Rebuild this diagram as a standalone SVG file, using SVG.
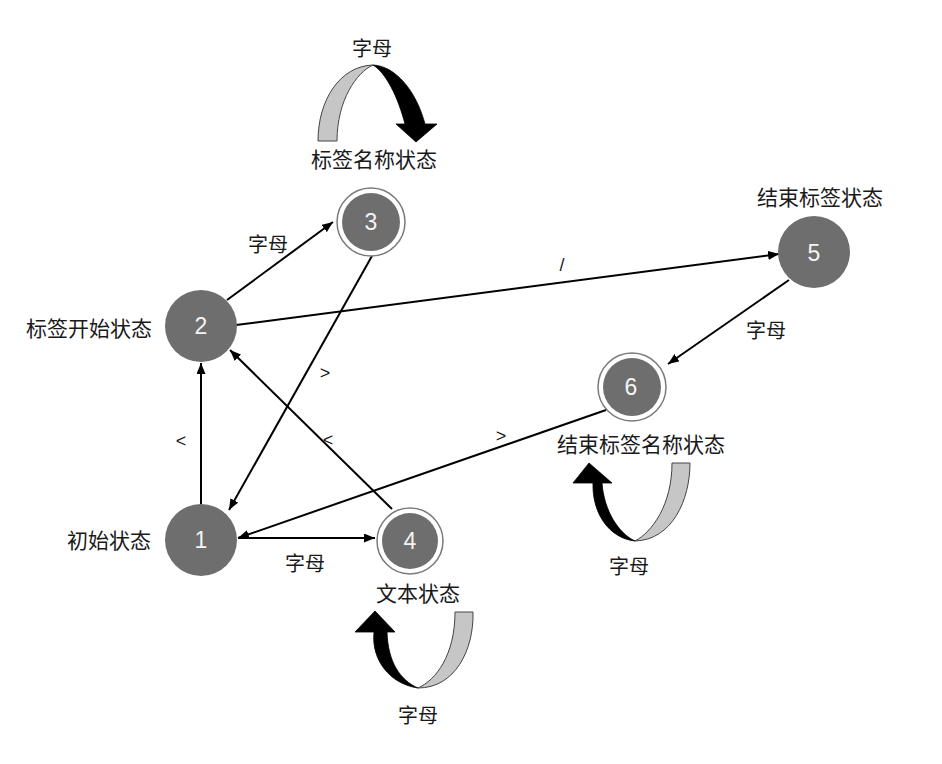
<svg xmlns="http://www.w3.org/2000/svg" width="942" height="764" viewBox="0 0 942 764">
<defs>
<marker id="ah" viewBox="0 0 11 9" refX="11" refY="4.5" markerWidth="11" markerHeight="9" markerUnits="userSpaceOnUse" orient="auto">
<path d="M0,0 L11,4.5 L0,9 Z" fill="#000"/>
</marker>
</defs>
<style>
.fill{fill:#6e6e6e}
.ring{fill:#fff;stroke:#7a7a7a;stroke-width:1.5}
.num{font-family:"Liberation Sans",Arial,sans-serif;font-size:23px;fill:#f4f4f4;text-anchor:middle;dominant-baseline:central}
.lbl{font-family:"Noto Sans CJK SC","Noto Sans",sans-serif;font-size:21px;fill:#1a1a1a;text-anchor:middle;dominant-baseline:central}
.el{font-family:"Noto Sans CJK SC","Noto Sans",sans-serif;font-size:20px;fill:#1a1a1a;text-anchor:middle;dominant-baseline:central}
.sym{font-family:"Liberation Sans",Arial,sans-serif;font-size:18px;fill:#1a1a1a;text-anchor:middle;dominant-baseline:central}
.edge{stroke:#000;stroke-width:2;fill:none;marker-end:url(#ah)}
.gray{fill:#c6c6c6;stroke:#444;stroke-width:1}
.blk{fill:#000;stroke:#000;stroke-width:0.8}
</style>
<rect width="942" height="764" fill="#fff"/>

<g id="connectors">
<line class="edge" x1="227" y1="300" x2="333" y2="222"/>
<line class="edge" x1="372" y1="256" x2="229" y2="510"/>
<line class="edge" x1="236" y1="325" x2="779" y2="254"/>
<line class="edge" x1="789" y1="280" x2="668" y2="364"/>
<line class="edge" x1="606" y1="410" x2="238" y2="538"/>
<line class="edge" x1="392" y1="509" x2="230" y2="350"/>
<line class="edge" x1="201" y1="504" x2="201" y2="363"/>
<line class="edge" x1="238" y1="538" x2="375" y2="538"/>
<text class="el" x="268" y="243">字母</text>
<text class="sym" x="325" y="373">&gt;</text>
<text class="sym" x="562" y="265">/</text>
<text class="el" x="766" y="329">字母</text>
<text class="sym" x="501" y="436">&gt;</text>
<text class="sym" x="328" y="440">&lt;</text>
<text class="sym" x="181" y="441">&lt;</text>
<text class="el" x="305" y="562">字母</text>
</g>

<g id="loop3">
<path class="gray" d="M318,141 C318,100 340,66 373,65 C357,72 337,100 337,141 Z"/>
<path class="blk" d="M373,65 C395,66 416,90 425,124 L437,124 L416,142 L396,124 L405,124 C398,97 386,73 373,65 Z"/>
<text class="el" x="372" y="47">字母</text>
</g>

<g id="loop6">
<path class="gray" d="M690,463 C690,500 672,540 635,541 C652,532 672,505 672,463 Z"/>
<path class="blk" d="M635,541 C608,538 592,512 593,483 L573,483 L589,463 L612,483 L602,483 C604,510 618,533 635,541 Z"/>
<text class="el" x="629" y="565">字母</text>
</g>

<g id="loop4">
<path class="gray" d="M473,612 C474,650 455,688 418,688 C436,680 455,655 455,612 Z"/>
<path class="blk" d="M418,688 C390,684 371,660 374,632 L355,632 L375,611 L395,632 L387,632 C388,662 400,680 418,688 Z"/>
<text class="el" x="418" y="714">字母</text>
</g>

<g id="node1">
<circle class="fill" cx="201" cy="540" r="36"/>
<text class="num" x="201" y="540">1</text>
<text class="lbl" x="109" y="539">初始状态</text>
</g>

<g id="node2">
<circle class="fill" cx="201" cy="326" r="36"/>
<text class="num" x="201" y="326">2</text>
<text class="lbl" x="89" y="327">标签开始状态</text>
</g>

<g id="node3">
<circle class="ring" cx="371" cy="222" r="34"/>
<circle class="fill" cx="371" cy="222" r="29"/>
<text class="num" x="371" y="222">3</text>
<text class="lbl" x="374" y="158">标签名称状态</text>
</g>

<g id="node4">
<circle class="ring" cx="410" cy="541" r="33"/>
<circle class="fill" cx="410" cy="541" r="28"/>
<text class="num" x="410" y="541">4</text>
<text class="lbl" x="418" y="592">文本状态</text>
</g>

<g id="node5">
<circle class="fill" cx="814" cy="252" r="36"/>
<text class="num" x="814" y="253">5</text>
<text class="lbl" x="820" y="196">结束标签状态</text>
</g>

<g id="node6">
<circle class="ring" cx="632" cy="387" r="34"/>
<circle class="fill" cx="632" cy="387" r="29"/>
<text class="num" x="631" y="387">6</text>
<text class="lbl" x="641" y="443">结束标签名称状态</text>
</g>
</svg>
